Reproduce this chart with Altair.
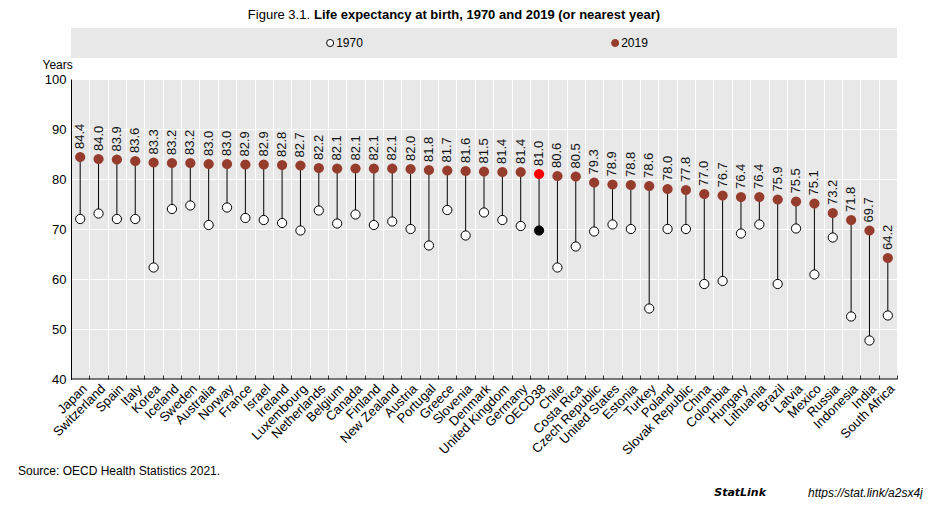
import altair as alt
import pandas as pd

countries = ["Japan", "Switzerland", "Spain", "Italy", "Korea", "Iceland", "Sweden", "Australia",
             "Norway", "France", "Israel", "Ireland", "Luxembourg", "Netherlands", "Belgium",
             "Canada", "Finland", "New Zealand", "Austria", "Portugal", "Greece", "Slovenia",
             "Denmark", "United Kingdom", "Germany", "OECD38", "Chile", "Costa Rica",
             "Czech Republic", "United States", "Estonia", "Turkey", "Poland", "Slovak Republic",
             "China", "Colombia", "Hungary", "Lithuania", "Brazil", "Latvia", "Mexico", "Russia",
             "Indonesia", "India", "South Africa"]
v2019 = [84.4, 84.0, 83.9, 83.6, 83.3, 83.2, 83.2, 83.0, 83.0, 82.9, 82.9, 82.8, 82.7, 82.2, 82.1,
         82.1, 82.1, 82.1, 82.0, 81.8, 81.7, 81.6, 81.5, 81.4, 81.4, 81.0, 80.6, 80.5, 79.3, 78.9,
         78.8, 78.6, 78.0, 77.8, 77.0, 76.7, 76.4, 76.4, 75.9, 75.5, 75.1, 73.2, 71.8, 69.7, 64.2]
v1970 = [72.0, 73.1, 72.0, 72.0, 62.3, 74.0, 74.7, 70.8, 74.3, 72.2, 71.8, 71.2, 69.7, 73.7, 71.1,
         72.9, 70.8, 71.5, 70.0, 66.7, 73.8, 68.7, 73.3, 71.8, 70.6, 69.7, 62.3, 66.5, 69.5, 70.9,
         70.0, 54.1, 70.0, 70.0, 59.0, 59.6, 69.1, 70.9, 59.0, 70.1, 60.9, 68.3, 52.5, 47.7, 52.7]
legend_years = ["1970", "2019"]
y_ticks = [40, 50, 60, 70, 80, 90, 100]
highlight = "OECD38"
title_plain = "Figure 3.1."
title_bold = "Life expectancy at birth, 1970 and 2019 (or nearest year)"
source_text = "Source: OECD Health Statistics 2021."
statlink_label = "StatLink"
statlink_url = "https://stat.link/a2sx4j"

BROWN = "#953c2d"
GRAY = "#e8e8e8"
FONT = "Liberation Sans, Arial, sans-serif"

df = pd.DataFrame({"country": countries, "y1970": v1970, "y2019": v2019})
df["label"] = [f"{v:.1f}" for v in v2019]

W, H = 826, 300

x_enc = alt.X(
    "country:N", sort=countries,
    scale=alt.Scale(type="band", paddingInner=0, paddingOuter=0),
    axis=alt.Axis(title=None, labelAngle=-45, labelAlign="right", labelBaseline="top",
                  labelPadding=3, labelFontSize=13, labelColor="#000", grid=True,
                  gridColor="white", gridWidth=1, tickBand="extent", ticks=True,
                  tickSize=4, tickColor="#333", domain=False, offset=-4, labelOverlap=False),
)
y_scale = alt.Scale(domain=[40, 100], nice=False, zero=False)
y_axis = alt.Axis(values=y_ticks, grid=True, gridColor="white", gridWidth=1, ticks=False,
                  domainColor="black", labelFontSize=13, labelColor="#000", labelPadding=5,
                  title="Years", titleAngle=0, titleAlign="left", titleBaseline="bottom",
                  titleX=-29, titleY=-8, titleFontWeight="normal", titleFontSize=12,
                  titleColor="#000")

base = alt.Chart(df)

bottom_line = alt.Chart(pd.DataFrame({"v": [40]})).mark_rule(color="black", strokeWidth=1).encode(
    y=alt.Y("v:Q", scale=y_scale, axis=y_axis))

stems = base.mark_rule(color="black", strokeWidth=1).encode(
    x=x_enc, y=alt.Y("y1970:Q", scale=y_scale, axis=y_axis), y2="y2019:Q")

is_hl = alt.datum.country == highlight

pts1970 = base.mark_circle(size=85, opacity=1, stroke="black", strokeWidth=1).encode(
    x=x_enc, y=alt.Y("y1970:Q", scale=y_scale),
    fill=alt.when(is_hl).then(alt.value("black")).otherwise(alt.value("white")))

pts2019 = base.mark_circle(size=105, opacity=1).encode(
    x=x_enc, y=alt.Y("y2019:Q", scale=y_scale),
    fill=alt.when(is_hl).then(alt.value("#ff0000")).otherwise(alt.value(BROWN)))

labels = base.mark_text(angle=270, align="left", baseline="middle", dx=8, fontSize=13,
                        font=FONT, color="#111").encode(
    x=x_enc, y=alt.Y("y2019:Q", scale=y_scale), text="label:N")

src = alt.Chart(pd.DataFrame({"t": [source_text]})).mark_text(
    align="left", baseline="middle", fontSize=12, font=FONT, color="#000").encode(
    x=alt.value(-53), y=alt.value(392), text="t:N")
sl1 = alt.Chart(pd.DataFrame({"t": [statlink_label]})).mark_text(
    align="right", baseline="middle", fontSize=11, font="DejaVu Sans", fontWeight="bold",
    fontStyle="italic", color="#000").encode(x=alt.value(695), y=alt.value(414), text="t:N")
sl2 = alt.Chart(pd.DataFrame({"t": [statlink_url]})).mark_text(
    align="left", baseline="middle", fontSize=12, font=FONT, fontStyle="italic",
    color="#000").encode(x=alt.value(737), y=alt.value(414), text="t:N")

main = alt.layer(bottom_line, stems, pts1970, pts2019, labels, src, sl1, sl2).properties(
    width=W, height=H)

leg_df = pd.DataFrame({"year": legend_years})
lx = alt.X("year:N", sort=legend_years,
           scale=alt.Scale(type="point", padding=0.949, align=0.479), axis=None)
leg_pts = alt.Chart(leg_df).mark_circle(size=50, opacity=1, strokeWidth=1).encode(
    x=lx,
    fill=alt.Fill("year:N", scale=alt.Scale(domain=legend_years, range=["white", BROWN]), legend=None),
    stroke=alt.Stroke("year:N", scale=alt.Scale(domain=legend_years, range=["black", BROWN]), legend=None))
leg_txt = alt.Chart(leg_df).mark_text(align="left", baseline="middle", dx=6, fontSize=12,
                                      font=FONT, color="#000").encode(x=lx, text="year:N")
t1 = alt.Chart(pd.DataFrame({"t": [title_plain]})).mark_text(
    align="right", baseline="middle", fontSize=13, font=FONT, color="#000").encode(
    x=alt.value(239), y=alt.value(-13), text="t:N")
t2 = alt.Chart(pd.DataFrame({"t": [title_bold]})).mark_text(
    align="left", baseline="middle", fontSize=13, font=FONT, fontWeight="bold", color="#000").encode(
    x=alt.value(243), y=alt.value(-13), text="t:N")

legend_chart = alt.layer(leg_pts, leg_txt, t1, t2).properties(width=W, height=30)

chart = alt.vconcat(legend_chart, main, spacing=0).resolve_scale(
    x="independent", fill="independent", stroke="independent"
).properties(
    padding={"left": 10, "top": 1, "right": 0, "bottom": 0}
).configure_view(fill=GRAY, stroke=None).configure_axis(
    labelFont=FONT, titleFont=FONT
)

chart.save("out.html", embed_options={"renderer": "svg", "actions": False})
